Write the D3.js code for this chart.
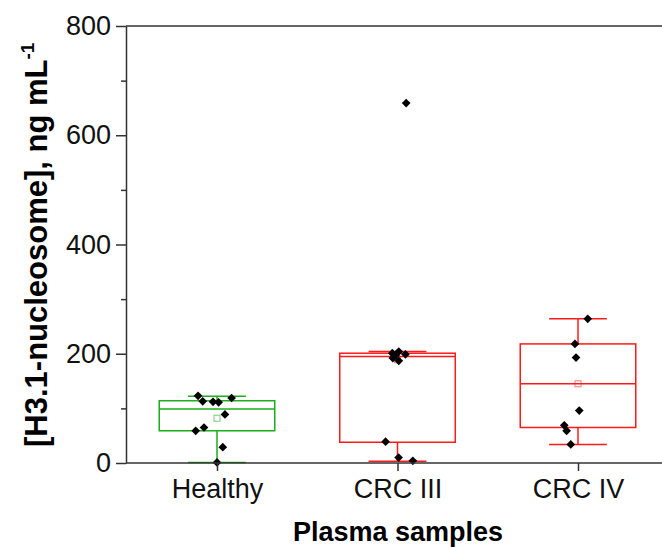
<!DOCTYPE html>
<html>
<head>
<meta charset="utf-8">
<script src="https://cdn.jsdelivr.net/npm/d3@7"></script>
<style>
  body { margin: 0; background: #fff; }
  svg { font-family: "Liberation Sans", Arial, sans-serif; }
</style>
</head>
<body>
<script>
// groups and colours
var groups = ["Healthy", "CRC III", "CRC IV"];
var colors = ["#1aae1a", "#ff1a1a", "#ff1a1a"];

// box statistics (ng/mL)
var q1     = [59, 38, 65];
var median = [99, 195, 145];
var q3     = [114, 201, 218];
var whiskLo = [1, 3, 34];
var whiskHi = [122, 204, 264];
var means  = [82, 189, 145];

// individual samples, value + horizontal jitter (category units)
var healthyVals = [123, 113, 112, 111, 119, 89, 65, 59, 29, 1];
var healthyJit  = [-0.105, -0.079, -0.022, 0.009, 0.081, 0.044, -0.072, -0.118, 0.032, 0];
var crc3Vals = [201, 204, 199, 197, 192, 187, 39, 10, 4, 659];
var crc3Jit  = [-0.029, 0.007, 0.044, -0.011, -0.026, 0.007, -0.066, 0.006, 0.085, 0.048];
var crc4Vals = [264, 218, 193, 96, 69, 59, 34];
var crc4Jit  = [0.054, -0.017, -0.011, 0.007, -0.076, -0.063, -0.04];

var yTicks = [0, 200, 400, 600, 800];
var yMinor = [100, 300, 500, 700];

var width = 662, height = 547;
var margin = {top: 26, left: 126, bottom: 84};

var svg = d3.select("body").append("svg")
    .attr("width", width)
    .attr("height", height);

var xScale = d3.scaleLinear()
    .domain([0, 2])
    .range([217, 578]);

var yScale = d3.scaleLinear()
    .domain([0, 800])
    .range([height - margin.bottom, margin.top]);

var boxHalf = 0.32, capHalf = 0.16;

var samples = [];
[[healthyVals, healthyJit], [crc3Vals, crc3Jit], [crc4Vals, crc4Jit]].forEach(function(g, i) {
  g[0].forEach(function(v, j) { samples.push({g: i, v: v, j: g[1][j]}); });
});

// boxes
groups.forEach(function(name, i) {
  var g = svg.append("g")
      .attr("stroke", colors[i])
      .attr("stroke-width", 1.5)
      .attr("fill", "none");
  // whiskers
  g.append("line")
      .attr("x1", xScale(i)).attr("x2", xScale(i))
      .attr("y1", yScale(q3[i])).attr("y2", yScale(whiskHi[i]));
  g.append("line")
      .attr("x1", xScale(i)).attr("x2", xScale(i))
      .attr("y1", yScale(q1[i])).attr("y2", yScale(whiskLo[i]));
  [whiskLo[i], whiskHi[i]].forEach(function(w) {
    g.append("line")
        .attr("x1", xScale(i - capHalf)).attr("x2", xScale(i + capHalf))
        .attr("y1", yScale(w)).attr("y2", yScale(w));
  });
  g.append("rect")
      .attr("x", xScale(i - boxHalf))
      .attr("y", yScale(q3[i]))
      .attr("width", xScale(i + boxHalf) - xScale(i - boxHalf))
      .attr("height", yScale(q1[i]) - yScale(q3[i]));
  g.append("line")
      .attr("x1", xScale(i - boxHalf)).attr("x2", xScale(i + boxHalf))
      .attr("y1", yScale(median[i])).attr("y2", yScale(median[i]));
  // mean marker
  g.append("rect")
      .attr("x", xScale(i) - 3).attr("y", yScale(means[i]) - 3)
      .attr("width", 6).attr("height", 6)
      .attr("stroke-width", 1)
      .attr("stroke-opacity", 0.6);
});

// data points
svg.append("g").selectAll("path")
    .data(samples)
    .enter().append("path")
    .attr("d", d3.symbol().type(d3.symbolSquare).size(38))
    .attr("transform", function(d) {
      return "translate(" + xScale(d.g + d.j) + "," + yScale(d.v) + ") rotate(45)";
    })
    .attr("fill", "#000");

// frame: top line and axes
svg.append("line")
    .attr("x1", margin.left).attr("x2", width)
    .attr("y1", yScale(800)).attr("y2", yScale(800))
    .attr("stroke", "#333").attr("stroke-width", 1.5);

var yAxis = svg.append("g")
    .attr("transform", "translate(" + margin.left + ",0)")
    .call(d3.axisLeft(yScale).tickValues(yTicks).tickSize(10).tickPadding(5).tickSizeOuter(0));

svg.append("g")
    .attr("transform", "translate(" + margin.left + ",0)")
    .call(d3.axisLeft(yScale).tickValues(yMinor).tickSize(5).tickFormat("").tickSizeOuter(0))
    .select(".domain").remove();

var xAxis = svg.append("g")
    .attr("transform", "translate(0," + yScale(0) + ")")
    .call(d3.axisBottom(xScale).tickValues([0, 1, 2]).tickSize(8).tickPadding(8)
      .tickFormat(function(d) { return groups[d]; }).tickSizeOuter(0));
xAxis.select(".domain").attr("d", "M" + margin.left + ",0H" + width);

svg.selectAll(".domain, .tick line").attr("stroke", "#333").attr("stroke-width", 1.5);
svg.selectAll(".tick text")
    .attr("fill", "#111")
    .style("font-size", "27px")
    .style("font-family", "'Liberation Sans', Arial, sans-serif");

// labels
svg.append("text")
    .attr("x", 398)
    .attr("y", 541)
    .attr("text-anchor", "middle")
    .style("font-size", "27px")
    .style("font-weight", "bold")
    .text("Plasma samples");

var yl = svg.append("text")
    .attr("transform", "translate(47,447) rotate(-90)")
    .style("font-size", "31px")
    .style("font-weight", "bold");
yl.append("tspan").text("[H3.1-nucleosome], ng mL");
yl.append("tspan").attr("dy", -13).style("font-size", "19px").text("-1");
</script>
</body>
</html>
